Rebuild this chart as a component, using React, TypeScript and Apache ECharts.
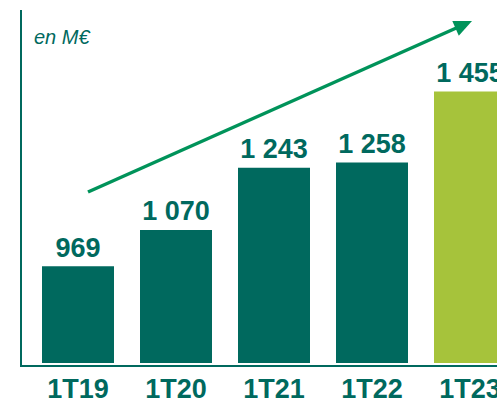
import React, { useEffect, useRef } from "react";
import * as echarts from "echarts";

const categories = ["1T19", "1T20", "1T21", "1T22", "1T23"];
const values = [969, 1070, 1243, 1258, 1455];
const highlighted = [false, false, false, false, true];
const unitLabel = "en M€";

const TEAL = "#00695E";
const LIME = "#A6C33B";
const ARROW = "#00935A";
const FONT = "'Liberation Sans', Arial, Helvetica, sans-serif";

function fmt(v: number): string {
  return String(v).replace(/\B(?=(\d{3})+(?!\d))/g, " ");
}

function arrowGraphics() {
  const S = [88, 192];
  const T = [472, 21];
  const dx = T[0] - S[0];
  const dy = T[1] - S[1];
  const len = Math.sqrt(dx * dx + dy * dy);
  const ux = dx / len;
  const uy = dy / len;
  const L = 18;
  const w = 8;
  const bx = T[0] - L * ux;
  const by = T[1] - L * uy;
  const nx = -uy;
  const ny = ux;
  return [
    {
      type: "line",
      shape: { x1: S[0], y1: S[1], x2: bx + 2 * ux, y2: by + 2 * uy },
      style: { stroke: ARROW, lineWidth: 3.5 },
      silent: true,
    },
    {
      type: "polygon",
      shape: {
        points: [
          [T[0], T[1]],
          [bx + w * nx, by + w * ny],
          [bx - w * nx, by - w * ny],
        ],
      },
      style: { fill: ARROW },
      silent: true,
    },
  ];
}

export default function App() {
  const ref = useRef<HTMLDivElement>(null);

  useEffect(() => {
    document.body.style.margin = "0";
    if (!ref.current) return;
    const chart = echarts.init(ref.current, undefined, { renderer: "svg" });
    chart.setOption({
      animation: false,
      backgroundColor: "#ffffff",
      grid: {
        left: 29,
        top: 10,
        width: 490,
        bottom: 38,
        containLabel: false,
        outerBoundsMode: "none",
      },
      xAxis: {
        type: "category",
        data: categories,
        axisLine: { show: false },
        axisTick: { show: false },
        axisLabel: {
          color: TEAL,
          fontSize: 27,
          lineHeight: 22,
          fontWeight: "bold",
          fontFamily: FONT,
          margin: 15,
          hideOverlap: false,
        },
      },
      yAxis: {
        type: "value",
        min: 700,
        max: 1682,
        show: false,
        splitLine: { show: false },
      },
      series: [
        {
          type: "bar",
          clip: true,
          barWidth: 72,
          data: values.map((v, i) => ({
            value: v,
            itemStyle: { color: highlighted[i] ? LIME : TEAL },
          })),
          label: {
            show: true,
            position: "top",
            distance: 5,
            color: TEAL,
            fontSize: 27,
            fontWeight: "bold",
            fontFamily: FONT,
            formatter: (p: any) => fmt(p.value),
          },
        },
      ],
      graphic: [
        {
          type: "polyline",
          shape: { points: [[21, 10], [21, 366], [497, 366]] },
          style: { stroke: TEAL, lineWidth: 2, fill: "none" },
          silent: true,
        },
        {
          type: "text",
          left: 34,
          top: 27,
          style: {
            text: unitLabel,
            fill: TEAL,
            font: `italic 20px ${FONT}`,
          },
          silent: true,
        },
        ...arrowGraphics(),
      ],
    });
    return () => chart.dispose();
  }, []);

  return <div ref={ref} style={{ width: 497, height: 401 }} />;
}
